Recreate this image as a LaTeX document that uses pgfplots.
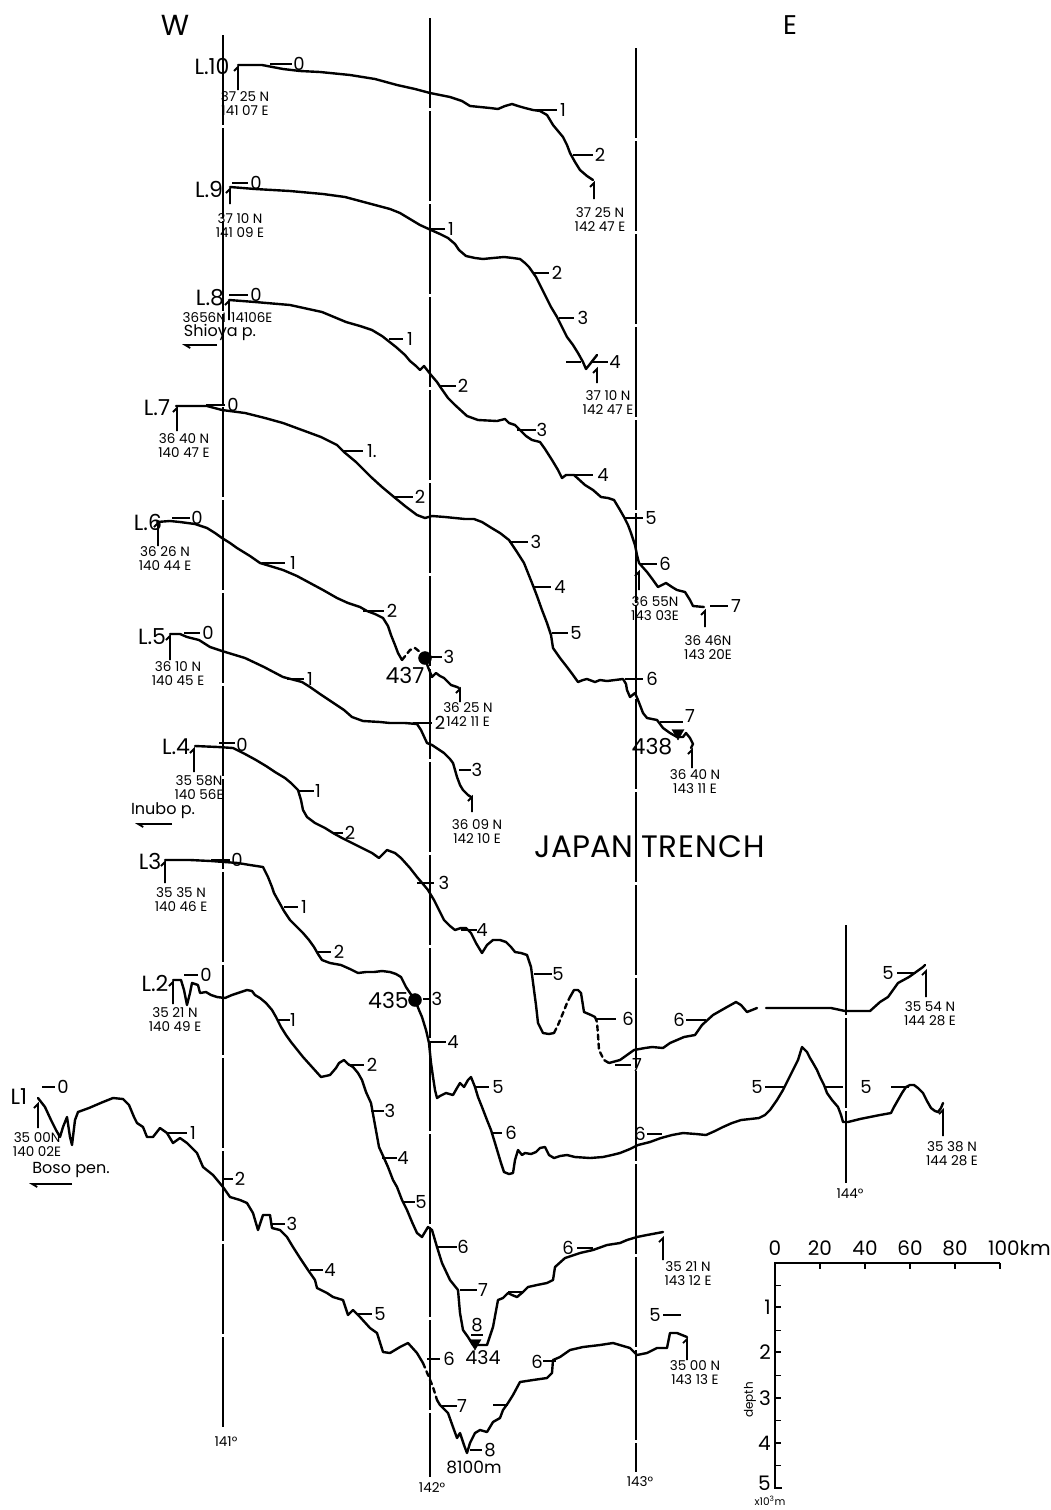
\documentclass[border=0pt]{standalone}
\usepackage{fontspec}
\setmainfont{Poppins}
\usepackage{pgfplots}
\pgfplotsset{compat=1.18}
\usetikzlibrary{arrows.meta}
\tikzset{
 prof/.style={black,line width=2.4pt,line join=round,line cap=round},
 dsh/.style={prof,dash pattern=on 5pt off 4pt},
 tks/.style={black,line width=1.8pt},
 mer/.style={black,line width=1.4pt,dash pattern=on 90pt off 3pt},
 num/.style={font=\fontsize{18}{18}\selectfont,inner sep=0pt},
 crd/.style={font=\fontsize{13.5}{13.5}\selectfont,inner sep=0pt},
 lbl/.style={font=\fontsize{22}{22}\selectfont,inner sep=0pt},
 big/.style={font=\fontsize{22}{22}\selectfont,inner sep=0pt},
 sc/.style={font=\fontsize{20}{20}\selectfont,inner sep=0pt},
}
\newcommand\tic[5]{\draw[tks] (axis cs:#1,#3) -- (axis cs:#2,#3); \node[num] at (axis cs:#4,#3) {#5};}
\newcommand\crd[4]{\node[crd] at (axis cs:#1,#2) {#3}; \node[crd,yshift=-13.5pt] at (axis cs:#1,#2) {#4};}
\newcommand\hk[3]{\draw[tks] ([xshift=-4pt,yshift=-4pt]axis cs:#1,#2) -- (axis cs:#1,#2) -- (axis cs:#1,#3);}
\newcommand\xt[1]{\draw[line width=1.7pt] (axis cs:#1,1263) -- (axis cs:#1,1269);}
\newcommand\yt[1]{\draw[line width=1.7pt] (axis cs:775,#1) -- (axis cs:781,#1);}
\begin{document}
\begin{tikzpicture}
\begin{axis}[width=1046pt,height=1510pt,scale only axis,xmin=0,xmax=1046,ymin=0,ymax=1510,
 y dir=reverse,hide axis,clip=false]
\path (axis cs:0,0) rectangle (axis cs:1046,1510);
% meridians
\draw[mer] (axis cs:223,35) -- (axis cs:223,1430);
\draw[mer] (axis cs:430,18) -- (axis cs:430,1477);
\draw[mer] (axis cs:636,48) -- (axis cs:636,1472);
\draw[mer] (axis cs:846,925) -- (axis cs:846,1183);
\node[crd] at (axis cs:226,1442) {141°};
\node[crd] at (axis cs:432,1488) {142°};
\node[crd] at (axis cs:640,1482) {143°};
\node[crd] at (axis cs:850,1194) {144°};
\node[font=\fontsize{29}{29}\selectfont,inner sep=0pt] at (axis cs:175,25) {W};
\node[font=\fontsize{27}{27}\selectfont,inner sep=0pt] at (axis cs:790,25) {E};
\node[font=\fontsize{31}{31}\selectfont,inner sep=0pt,anchor=east] at (axis cs:633,847) {JAPAN};
\node[font=\fontsize{31}{31}\selectfont,inner sep=0pt,anchor=west] at (axis cs:641,847) {T\kern1ptR\kern1ptE\kern1ptN\kern1ptC\kern1ptH};

% ---------------- L10
\addplot[prof] coordinates {(238,65) (262,65) (283,69) (300,71) (320,72) (350,75) (375,79) (397,85) (415,89) (430,93) (450,97) (462,101) (470,106) (480,107) (490,108) (498,109) (505,106) (512,104) (518,106) (525,108) (533,110) (540,111) (547,115) (553,125) (558,131) (563,137) (567,145) (570,153) (575,162) (580,170) (587,176) (593,180)};
\node[lbl] at (axis cs:212,66) {L.10};
\hk{238}{67}{90}
\crd{245}{97}{37 25 N}{141 07 E}
\hk{594}{183}{199}
\crd{600}{213}{37 25 N}{142 47 E}
\tic{270}{292}{64}{299}{0}
\tic{533}{557}{110}{563}{1}
\tic{573}{593}{155}{600}{2}

% ---------------- L9
\addplot[prof] coordinates {(230,187) (255,189) (290,191) (323,194) (345,197) (360,201) (375,205) (390,209) (400,213) (410,219) (420,225) (431,230) (440,234) (448,238) (455,244) (459,250) (466,256) (475,258) (483,259) (493,258) (504,257) (513,258) (520,259) (525,263) (529,267) (536,277) (541,287) (546,297) (551,307) (557,317) (562,327) (567,337) (573,345) (578,353) (583,362) (586,369) (590,364) (597,355)};
\node[lbl] at (axis cs:209,189) {L.9};
\hk{230}{189}{204}
\crd{240}{219}{37 10 N}{141 09 E}
\hk{597}{369}{383}
\crd{608}{396}{37 10 N}{142 47 E}
\tic{232}{248}{183}{256}{0}
\tic{431}{445}{229}{451}{1}
\tic{533}{549}{273}{557}{2}
\tic{559}{574}{318}{583}{3}
\draw[tks] (axis cs:566,362) -- (axis cs:581,362);
\tic{592}{608}{362}{615}{4}

% ---------------- L8
\addplot[prof] coordinates {(229,300) (255,302) (290,305) (322,312) (346,322) (360,326) (372,330) (382,336) (396,347) (405,355) (410,361) (416,366) (420,370) (424,366) (431,375) (437,382) (441,388) (448,398) (455,405) (467,416) (478,420) (497,421) (505,419) (509,423) (515,425) (520,430) (526,436) (532,440) (540,442) (545,449) (552,460) (558,470) (562,478) (566,475) (574,475) (585,485) (593,490) (601,497) (608,498) (614,500) (620,510) (624,517) (628,525) (631,533) (635,545) (637,555) (639,563) (647,572) (653,580) (658,587) (666,583) (672,587) (677,590) (685,592) (690,600) (693,606) (704,607)};
\node[lbl] at (axis cs:210,298) {L.8};
\hk{229}{301}{320}
\node[crd,anchor=east] at (axis cs:226,318) {3656N};
\node[crd,anchor=west] at (axis cs:231,318) {14106E};
\node[font=\fontsize{16}{16}\selectfont,inner sep=0pt] at (axis cs:220,332) {Shioya p.};
\draw[tks,-{Straight Barb[length=5pt,width=6pt,left]}] (axis cs:217,345) -- (axis cs:182,345);
\tic{229}{248}{295}{256}{0}
\tic{389}{403}{339}{410}{1}
\tic{440}{456}{386}{463}{2}
\tic{517}{536}{430}{542}{3}
\tic{568}{593}{475}{603}{4}
\tic{624}{643}{518}{651}{5}
\tic{640}{657}{564}{665}{6}
\tic{710}{728}{606}{736}{7}
\hk{639}{572}{590}
\crd{655}{602}{36 55N}{143 03E}
\hk{705}{611}{627}
\crd{708}{641}{36 46N}{143 20E}

% ---------------- L7
\addplot[prof] coordinates {(176,406) (190,406) (207,406) (222,410) (245,413) (265,418) (283,423) (302,430) (321,437) (337,445) (344,452) (356,462) (365,471) (371,477) (382,487) (394,497) (405,506) (417,515) (425,518) (432,516) (445,517) (455,518) (465,519) (474,519) (482,522) (490,527) (500,533) (509,540) (517,552) (524,563) (528,573) (532,583) (537,596) (542,610) (547,623) (551,635) (553,648) (560,658) (567,667) (573,675) (578,682) (583,680) (587,679) (595,682) (600,680) (607,681) (615,680) (623,679) (626,684) (627,690) (630,697) (635,693) (638,700) (643,713) (647,718) (652,719) (657,720) (663,728) (670,733) (677,737) (683,737) (686,733) (690,738) (693,744) (691,748)};
\node[lbl] at (axis cs:157,408) {L.7};
\hk{177}{408}{431}
\crd{184}{439}{36 40 N}{140 47 E}
\hk{692}{750}{768}
\crd{695}{775}{36 40 N}{143 11 E}
\tic{206}{225}{405}{233}{0}
\tic{344}{363}{451}{372}{1.}
\tic{394}{413}{497}{420}{2}
\tic{509}{528}{542}{536}{3}
\tic{534}{551}{587}{560}{4}
\tic{552}{568}{633}{576}{5}
\tic{625}{643}{679}{652}{6}
\draw[tks] (axis cs:660,722) -- (axis cs:683,722);
\node[num] at (axis cs:690,716) {7};
\node[big] at (axis cs:652,747) {438};

% ---------------- L6
\addplot[prof] coordinates {(157,522) (170,521) (180,522) (195,524) (207,528) (215,533) (222,538) (230,543) (237,548) (250,556) (260,563) (270,566) (283,570) (297,576) (310,583) (323,590) (337,598) (348,603) (360,607) (367,611) (375,614) (383,618) (388,626) (391,635) (395,645) (398,653) (402,660)};
\addplot[dsh] coordinates {(402,660) (406,655) (410,650) (415,648) (420,652) (425,658)};
\addplot[prof] coordinates {(425,658) (428,667) (432,677) (436,673) (440,676) (444,678) (451,685) (457,687) (459,688)};
\node[lbl] at (axis cs:148,522) {L.6};
\hk{158}{523}{546}
\crd{165}{552}{36 26 N}{140 44 E}
\hk{460}{689}{702}
\crd{468}{708}{36 25 N}{142 11 E}
\tic{172}{190}{518}{197}{0}
\tic{262}{285}{563}{293}{1}
\tic{363}{384}{611}{392}{2}
\tic{430}{442}{657}{449}{3}
\node[big] at (axis cs:405,675) {437};

% ---------------- L5
\addplot[prof] coordinates {(170,634) (180,634) (187,637) (199,640) (210,647) (222,651) (245,658) (264,667) (283,677) (302,682) (310,687) (320,694) (329,700) (344,710) (352,717) (363,721) (380,722) (390,723) (405,723) (417,724) (421,730) (427,743) (432,745) (438,749) (444,753) (450,759) (453,763) (455,770) (457,777) (460,785) (463,790) (468,795) (471,797)};
\node[lbl] at (axis cs:152,637) {L.5};
\hk{170}{636}{660}
\crd{178}{667}{36 10 N}{140 45 E}
\hk{472}{797}{812}
\crd{477}{825}{36 09 N}{142 10 E}
\tic{184}{200}{633}{208}{0}
\tic{287}{304}{679}{310}{1}
\tic{413}{432}{723}{440}{2}
\tic{459}{471}{770}{477}{3}

% ---------------- L4
\addplot[prof] coordinates {(195,746) (218,747) (233,748) (245,754) (256,760) (266,766) (275,772) (285,778) (291,783) (298,790) (301,800) (303,810) (307,817) (315,823) (325,828) (333,833) (342,838) (352,843) (362,848) (372,853) (379,858) (387,850) (395,853) (401,858) (410,868) (417,877) (423,884) (428,890) (434,900) (439,910) (444,920) (450,926) (455,930) (461,928) (466,928) (471,933) (476,943) (482,953) (487,945) (493,940) (500,940) (506,942) (511,947) (515,952) (521,953) (527,955) (531,967) (534,990) (536,1005) (538,1023) (543,1033) (549,1034) (554,1033)};
\addplot[dsh] coordinates {(554,1033) (558,1025) (563,1013) (567,1003) (570,997)};
\addplot[prof] coordinates {(570,997) (574,990) (578,990) (581,993) (584,1012) (591,1015) (595,1017)};
\addplot[dsh] coordinates {(595,1017) (597,1022) (598,1035) (599,1050) (604,1060) (609,1063)};
\addplot[prof] coordinates {(609,1063) (620,1060) (634,1050) (645,1048) (652,1047) (663,1048) (670,1043) (684,1037) (695,1035) (702,1025) (713,1015) (727,1007) (736,1002) (741,1005) (747,1012) (752,1010) (757,1008)};
\addplot[prof] coordinates {(766,1008) (795,1008) (831,1008) (845,1011) (870,1011) (880,1002) (888,997) (898,983) (909,977) (916,972) (923,967) (925,965)};
\node[lbl] at (axis cs:176,747) {L.4};
\hk{194}{749}{772}
\crd{199}{781}{35 58N}{140 56E}
\node[font=\fontsize{16}{16}\selectfont,inner sep=0pt] at (axis cs:163,811) {Inubo p.};
\draw[tks,-{Straight Barb[length=5pt,width=6pt,left]}] (axis cs:172,824) -- (axis cs:135,824);
\hk{926}{971}{997}
\crd{930}{1007}{35 54 N}{144 28 E}
\draw[tks] (axis cs:219,743) -- (axis cs:235,743);
\node[num] at (axis cs:242,745) {0};
\tic{298}{314}{791}{318}{1}
\tic{332}{343}{833}{350}{2}
\tic{417}{434}{883}{444}{3}
\tic{461}{477}{930}{482}{4}
\tic{534}{552}{974}{558}{5}
\tic{595}{616}{1019}{628}{6}
\tic{615}{631}{1065}{637}{7}
\draw[tks] (axis cs:686,1020) -- (axis cs:706,1020); \node[num] at (axis cs:679,1020) {6};
\draw[tks] (axis cs:897,973) -- (axis cs:916,973); \node[num] at (axis cs:888,973) {5};

% ---------------- L3
\addplot[prof] coordinates {(165,860) (190,860) (211,861) (238,863) (250,865) (263,867) (268,877) (272,887) (274,893) (279,902) (284,911) (290,920) (297,927) (303,933) (309,940) (314,947) (318,954) (322,960) (330,963) (341,965) (350,969) (358,973) (366,972) (374,972) (382,971) (390,972) (396,974) (401,977) (406,987) (410,993) (415,1000) (419,1010) (422,1017) (426,1030) (429,1043) (431,1063) (433,1077) (435,1090) (437,1098) (440,1096) (446,1093) (453,1095) (457,1088) (460,1083) (464,1087) (468,1080) (471,1077) (475,1087) (478,1097) (482,1107) (487,1120) (491,1130) (495,1143) (498,1153) (501,1163) (504,1172) (509,1174) (513,1173) (515,1160) (518,1150) (522,1155) (525,1153) (531,1154) (536,1152) (540,1148) (545,1147) (549,1155) (554,1158) (560,1156) (567,1155) (575,1157) (590,1158) (603,1157) (612,1155) (620,1153) (630,1149) (638,1145) (650,1142) (661,1138) (672,1135) (683,1133) (696,1134) (706,1135) (715,1131) (723,1127) (732,1123) (741,1120) (750,1119) (759,1118) (765,1115) (770,1110) (777,1100) (783,1090) (788,1080) (793,1070) (798,1060) (802,1047) (805,1050) (807,1052) (810,1058) (813,1063) (817,1070) (820,1077) (824,1085) (827,1093) (832,1100) (838,1107) (841,1115) (843,1122) (848,1122) (860,1119) (870,1117) (880,1115) (891,1113) (894,1107) (898,1100) (902,1093) (906,1087) (910,1085) (914,1085) (918,1088) (923,1093) (927,1101) (931,1108) (935,1111) (938,1112) (941,1108) (943,1103)};
\node[lbl] at (axis cs:150,861) {L3};
\hk{165}{862}{883}
\crd{181}{893}{35 35 N}{140 46 E}
\hk{943}{1110}{1136}
\crd{952}{1147}{35 38 N}{144 28 E}
\tic{211}{230}{860}{237}{0}
\tic{284}{298}{907}{304}{1}
\tic{317}{331}{952}{339}{2}
\tic{423}{431}{999}{437}{3}
\tic{431}{446}{1042}{453}{4}
\tic{475}{489}{1087}{498}{5}
\tic{491}{502}{1133}{511}{6}
\draw[tks] (axis cs:647,1134) -- (axis cs:662,1134); \node[num] at (axis cs:640,1134) {6};
\draw[tks] (axis cs:765,1087) -- (axis cs:784,1087); \node[num] at (axis cs:757,1087) {5};
\draw[tks] (axis cs:825,1087) -- (axis cs:843,1087); \node[num] at (axis cs:866,1087) {5};
\draw[tks] (axis cs:891,1087) -- (axis cs:909,1087);
\node[big,anchor=east] at (axis cs:409,1000) {435};

% ---------------- L2
\addplot[prof] coordinates {(173,980) (181,980) (184,990) (187,1005) (190,993) (192,983) (198,985) (200,993) (206,992) (211,995) (217,997) (225,998) (232,995) (238,993) (247,990) (252,991) (255,995) (260,998) (266,1003) (272,1010) (276,1017) (281,1027) (286,1035) (291,1042) (295,1047) (303,1057) (312,1067) (321,1077) (330,1075) (336,1068) (339,1063) (344,1060) (348,1064) (353,1067) (358,1073) (362,1080) (366,1092) (371,1103) (375,1125) (379,1147) (384,1158) (388,1167) (393,1180) (397,1187) (402,1200) (407,1210) (412,1222) (417,1233) (422,1237) (428,1227) (432,1230) (437,1247) (442,1263) (450,1280) (458,1290) (460,1313) (463,1330) (468,1337) (473,1345) (480,1345) (487,1345) (493,1327) (498,1300) (503,1298) (508,1293) (512,1295) (517,1297) (523,1292) (528,1287) (537,1285) (547,1283) (553,1280) (555,1267) (565,1258) (580,1253) (593,1250) (607,1245) (620,1243) (627,1240) (637,1237) (647,1235) (663,1232)};
\node[lbl] at (axis cs:155,983) {L.2};
\hk{173}{982}{1004}
\crd{175}{1013}{35 21 N}{140 49 E}
\hk{663}{1238}{1260}
\crd{688}{1267}{35 21 N}{143 12 E}
\tic{184}{198}{975}{206}{0}
\tic{277}{290}{1020}{293}{1}
\tic{348}{364}{1065}{372}{2}
\tic{371}{384}{1111}{390}{3}
\tic{382}{397}{1158}{403}{4}
\tic{402}{415}{1202}{421}{5}
\tic{437}{457}{1247}{463}{6}
\tic{460}{477}{1290}{483}{7}
\node[num] at (axis cs:477,1325) {8};
\draw[line width=1.2pt] (axis cs:471,1335) -- (axis cs:483,1335);
\draw[tks] (axis cs:508,1292) -- (axis cs:523,1292);
\draw[tks] (axis cs:577,1248) -- (axis cs:593,1248); \node[num] at (axis cs:568,1248) {6};
\node[font=\fontsize{19}{19}\selectfont,inner sep=0pt] at (axis cs:483,1358) {434};

% ---------------- L1
\addplot[prof] coordinates {(38,1098) (45,1107) (51,1120) (56,1130) (60,1137) (63,1127) (67,1117) (70,1137) (72,1145) (75,1120) (78,1112) (89,1108) (103,1102) (113,1098) (123,1099) (129,1105) (134,1117) (137,1123) (143,1127) (147,1137) (153,1137) (160,1128) (167,1133) (173,1143) (180,1138) (187,1143) (197,1153) (203,1167) (213,1175) (223,1187) (230,1197) (240,1200) (247,1203) (253,1213) (258,1230) (263,1215) (270,1215) (272,1228) (280,1230) (287,1237) (293,1247) (300,1258) (308,1270) (315,1280) (317,1288) (327,1293) (333,1297) (343,1300) (348,1315) (353,1310) (360,1317) (370,1328) (377,1333) (383,1352) (390,1353) (400,1347) (408,1343) (417,1353) (423,1363)};
\addplot[dsh] coordinates {(423,1363) (428,1375) (433,1387) (437,1400)};
\addplot[prof] coordinates {(437,1400) (440,1405) (448,1413) (453,1427) (457,1438) (460,1433) (464,1445) (467,1453) (470,1443) (475,1433) (480,1430) (487,1432) (493,1422) (500,1418) (503,1410) (508,1403) (513,1395) (520,1382) (533,1380) (547,1378) (552,1373) (553,1360) (560,1357) (570,1350) (583,1347) (600,1345) (613,1343) (630,1348) (637,1355) (647,1353) (657,1348) (667,1348) (670,1333) (677,1333) (687,1337)};
\node[lbl] at (axis cs:19,1097) {L1};
\hk{38}{1104}{1128}
\crd{37}{1138}{35 00N}{140 02E}
\node[font=\fontsize{16}{16}\selectfont,inner sep=0pt] at (axis cs:71,1170) {Boso pen.};
\draw[tks,-{Straight Barb[length=5pt,width=6pt,left]}] (axis cs:72,1184) -- (axis cs:29,1184);
\hk{687}{1339}{1360}
\crd{695}{1366}{35 00 N}{143 13 E}
\tic{42}{55}{1087}{63}{0}
\tic{167}{187}{1133}{193}{1}
\tic{223}{233}{1179}{240}{2}
\tic{272}{285}{1224}{292}{3}
\tic{310}{323}{1270}{330}{4}
\tic{357}{372}{1314}{380}{5}
\tic{427}{440}{1359}{449}{6}
\tic{440}{457}{1406}{462}{7}
\draw[tks] (axis cs:493,1405) -- (axis cs:508,1405);
\tic{470}{482}{1450}{490}{8}
\node[font=\fontsize{17}{17}\selectfont,inner sep=0pt] at (axis cs:474,1467) {8100m};
\draw[tks] (axis cs:543,1361) -- (axis cs:556,1361); \node[num] at (axis cs:537,1362) {6};
\draw[tks] (axis cs:663,1315) -- (axis cs:681,1315); \node[num] at (axis cs:655,1315) {5};

% markers (sites)
\addplot[only marks,mark=*,mark size=6.5pt,black] coordinates {(425,658) (415,1000)};
\addplot[only marks,mark=triangle*,mark size=7pt,black,mark options={rotate=180}] coordinates {(678,733) (475,1343)};

% ---------------- scale bar
\draw[line width=2.2pt] (axis cs:1000,1263) -- (axis cs:775,1263) -- (axis cs:775,1488) -- (axis cs:782,1488);
\xt{820}\xt{865}\xt{910}\xt{955}\xt{1000}
\yt{1285.5}\yt{1307}\yt{1330.5}\yt{1352}\yt{1375.5}\yt{1398}\yt{1420.5}\yt{1443}\yt{1465.5}
\node[sc] at (axis cs:775,1248) {0};
\node[sc] at (axis cs:820,1248) {20};
\node[sc] at (axis cs:865,1248) {40};
\node[sc] at (axis cs:910,1248) {60};
\node[sc] at (axis cs:955,1248) {80};
\node[sc,anchor=west] at (axis cs:988,1248) {100km};
\node[sc,anchor=east] at (axis cs:771,1307) {1};
\node[sc,anchor=east] at (axis cs:771,1352) {2};
\node[sc,anchor=east] at (axis cs:771,1398) {3};
\node[sc,anchor=east] at (axis cs:771,1443) {4};
\node[sc,anchor=base east] at (axis cs:771,1490) {5};
\node[font=\fontsize{12}{12}\selectfont,inner sep=0pt,rotate=90] at (axis cs:750,1400) {depth};
\node[font=\fontsize{10.5}{10.5}\selectfont,inner sep=0pt,anchor=base] at (axis cs:770,1505) {x10\textsuperscript{3}m};
\end{axis}
\end{tikzpicture}
\end{document}
